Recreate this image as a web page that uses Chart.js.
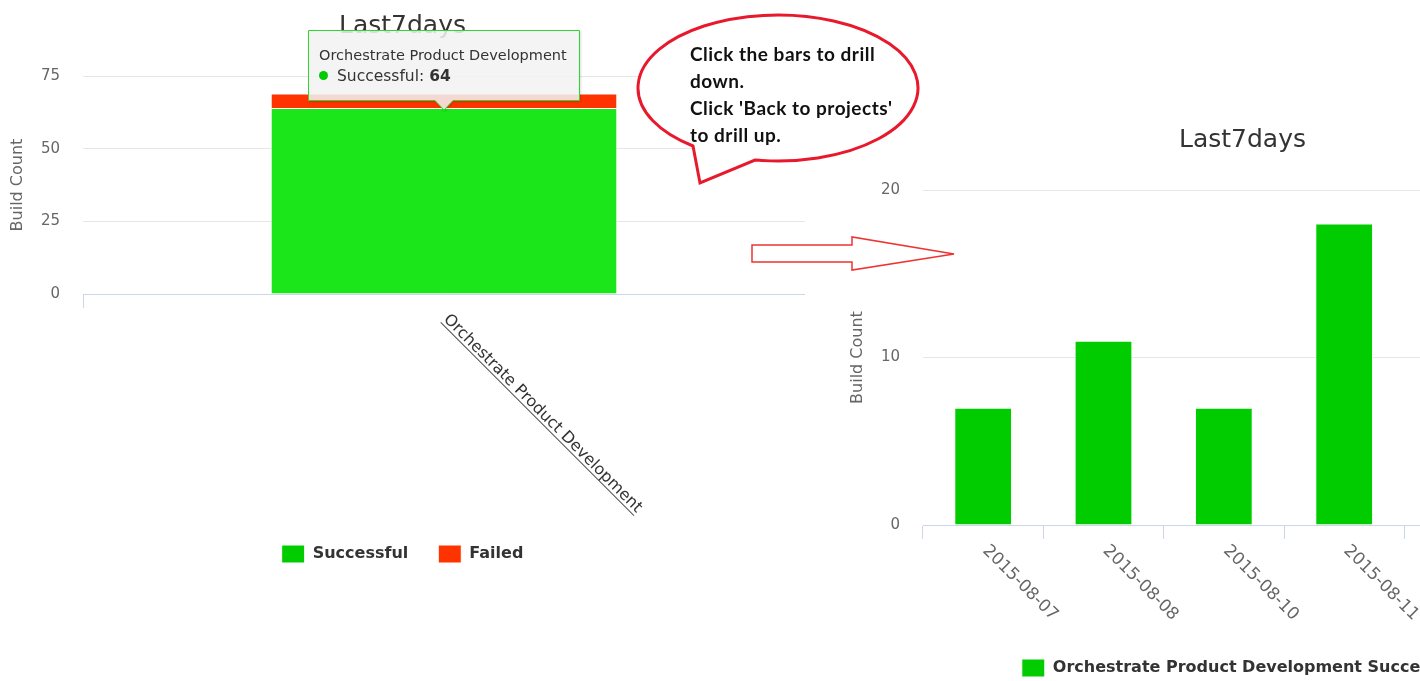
<!DOCTYPE html>
<html>
<head>
<meta charset="utf-8">
<title>Last7days drilldown</title>
<script src="https://cdn.jsdelivr.net/npm/chart.js@4.4.0/dist/chart.umd.min.js"></script>
<style>
    html, body { margin: 0; padding: 0; background: #fff; width: 1420px; height: 681px; overflow: hidden; position: relative; }
    canvas { position: absolute; }
    #projChart { left: 0; top: 0; }
    #dayChart { left: 840px; top: 110px; }
    #notes { position: absolute; left: 0; top: 0; pointer-events: none; }
    #bubbleText { position: absolute; left: 690px; top: 40px; font: bold 19px Lato, sans-serif; letter-spacing: 0.5px; line-height: 27px; color: #111; white-space: nowrap; }
    #tip { position: absolute; display: none; }
    #tip svg { position: absolute; left: 0; top: 0; overflow: visible; filter: drop-shadow(1px 1px 1px rgba(0,0,0,0.15)); }
    .tip-text { position: relative; padding: 16px 13px 13px 11px; white-space: nowrap; font-family: 'DejaVu Sans', sans-serif; color: #333; }
    .tip-head { font-size: 14.5px; line-height: 18px; }
    .tip-body { font-size: 15.5px; line-height: 24px; }
    .tip-dot { display: inline-block; width: 9px; height: 9px; border-radius: 50%; margin-right: 9px; vertical-align: 1px; }
</style>
</head>
<body>
<canvas id="projChart" width="805" height="600"></canvas>
<canvas id="dayChart" width="805" height="600"></canvas>

<svg id="notes" width="1420" height="681">
    <path d="M755 160 A140 73 0 1 0 693 146 L700 183 Z" fill="#fff" stroke="#e8192c" stroke-width="3" stroke-linejoin="miter"/>
    <polygon points="752,245 852,245 852,237 954,254 852,270 852,262 752,262" fill="#fff" stroke="#ee3333" stroke-width="1.5"/>
</svg>
<div id="bubbleText">Click the bars to drill<br>down.<br>Click 'Back to projects'<br>to drill up.</div>

<div id="tip"><svg><path/></svg><div class="tip-text"></div></div>

<script>
// projects view
const projects = ['Orchestrate Product Development'];
const successful = [64];
const failed = [5];
const projTicks = [0, 25, 50, 75];

// drilldown view (the last two slots are off screen)
const days = ['2015-08-07', '2015-08-08', '2015-08-10', '2015-08-11', '', ''];
const daySuccess = [7, 11, 7, 18, null, null];
const dayTicks = [0, 10, 20];

Chart.defaults.font.family = "'DejaVu Sans', sans-serif";

// slanted category labels, 45deg going down-right from the tick
const slantLabels = {
    id: 'slantLabels',
    afterDraw(chart, args, opts) {
        const sc = chart.scales.x;
        const ctx = chart.ctx;
        chart.data.labels.forEach((lab, i) => {
            if (!lab) return;
            const x = sc.getPixelForTick(i);
            ctx.save();
            ctx.translate(x + opts.dx, sc.top + opts.dy);
            ctx.rotate(Math.PI / 4);
            ctx.font = opts.font;
            ctx.fillStyle = opts.color;
            ctx.textAlign = 'left';
            ctx.textBaseline = 'middle';
            ctx.fillText(lab, 0, 0);
            if (opts.underline) {
                const w = ctx.measureText(lab).width;
                ctx.fillStyle = opts.underline;
                ctx.fillRect(0, 7, w, 1);
            }
            ctx.restore();
        });
    }
};

function drawTip(context) {
    const { chart, tooltip } = context;
    const tip = document.getElementById('tip');
    if (tooltip.opacity === 0 || !tooltip.dataPoints || !tooltip.dataPoints.length) {
        tip.style.display = 'none';
        return;
    }
    const item = tooltip.dataPoints[0];
    tip.style.display = 'block';

    const text = tip.querySelector('.tip-text');
    text.innerHTML = '';
    const head = document.createElement('div');
    head.className = 'tip-head';
    head.textContent = item.label;
    const body = document.createElement('div');
    body.className = 'tip-body';
    const dot = document.createElement('span');
    dot.className = 'tip-dot';
    dot.style.background = item.dataset.backgroundColor;
    body.appendChild(dot);
    body.appendChild(document.createTextNode(item.dataset.label + ': '));
    const val = document.createElement('b');
    val.textContent = item.formattedValue;
    body.appendChild(val);
    text.append(head, body);

    const w = text.offsetWidth, h = text.offsetHeight, c = 9;
    const svg = tip.querySelector('svg');
    svg.setAttribute('width', w);
    svg.setAttribute('height', h + c);
    const path = svg.querySelector('path');
    path.setAttribute('d', `M0.5 0.5 H${w - 0.5} V${h - 0.5} H${w / 2 + c} L${w / 2} ${h + c} L${w / 2 - c} ${h - 0.5} H0.5 Z`);
    path.setAttribute('fill', 'rgba(247,247,247,0.85)');
    path.setAttribute('stroke', '#2fd62f');
    path.setAttribute('stroke-width', '1');

    // caret tip sits on the white seam just above the bar
    const cv = chart.canvas;
    tip.style.left = (cv.offsetLeft + tooltip.caretX - w / 2) + 'px';
    tip.style.top = (cv.offsetTop + tooltip.caretY + 2 - c - h) + 'px';
}

function yAxis(max, ticks) {
    return {
        stacked: true,
        min: 0,
        max: max,
        afterBuildTicks: s => { s.ticks = ticks.map(v => ({ value: v })); },
        afterFit: s => { s.width = 83; },
        grid: { color: '#e6e6e6', drawTicks: false },
        border: { display: false },
        ticks: { color: '#666', font: { size: 15 }, padding: 23 },
        title: { display: true, text: 'Build Count', color: '#666', font: { size: 16 }, padding: { top: 8, bottom: 0 } }
    };
}

function xAxis(height) {
    return {
        stacked: true,
        offset: true,
        afterFit: s => { s.height = height; },
        grid: { drawOnChartArea: false, drawTicks: true, tickLength: 14, color: '#ccd6eb', offset: true },
        border: { color: '#ccd6eb' },
        ticks: { display: false }
    };
}

function titleOpts(top) {
    return { display: true, text: 'Last7days', color: '#333', font: { size: 25, weight: 'normal' }, padding: { top: top, bottom: 35 } };
}

function legendOpts() {
    return {
        position: 'bottom',
        labels: { boxWidth: 23, boxHeight: 18, color: '#333', font: { size: 16, weight: 'bold' }, padding: 30 }
    };
}

const projChart = new Chart(document.getElementById('projChart'), {
    type: 'bar',
    data: {
        labels: projects,
        datasets: [
            {
                label: 'Successful',
                data: successful,
                backgroundColor: '#00cc00',
                hoverBackgroundColor: '#1ae61a',
                borderColor: '#fff',
                hoverBorderColor: '#fff',
                borderWidth: 1,
                categoryPercentage: 0.8,
                barPercentage: 0.6
            },
            {
                label: 'Failed',
                data: failed,
                backgroundColor: '#ff3300',
                hoverBackgroundColor: '#ff3300',
                borderColor: '#fff',
                hoverBorderColor: '#fff',
                borderWidth: 1,
                categoryPercentage: 0.8,
                barPercentage: 0.6
            }
        ]
    },
    options: {
        responsive: false,
        animation: false,
        events: [],
        layout: { padding: { left: 0, right: 0, top: 0, bottom: 27 } },
        scales: { x: xAxis(221), y: yAxis(75, projTicks) },
        plugins: {
            title: titleOpts(11),
            legend: legendOpts(),
            tooltip: { enabled: false, external: drawTip },
            slantLabels: { font: "16px 'DejaVu Sans', sans-serif", color: '#333', underline: '#555', dx: 2, dy: 23 }
        }
    },
    plugins: [slantLabels]
});

const dayChart = new Chart(document.getElementById('dayChart'), {
    type: 'bar',
    data: {
        labels: days,
        datasets: [{
            label: 'Orchestrate Product Development Successful',
            data: daySuccess,
            backgroundColor: '#00cc00',
            borderColor: '#fff',
            borderWidth: 1,
            categoryPercentage: 0.8,
            barPercentage: 0.6
        }]
    },
    options: {
        responsive: false,
        animation: false,
        events: [],
        layout: { padding: { left: 0, right: 0, top: 0, bottom: 23 } },
        scales: { x: xAxis(104), y: yAxis(20, dayTicks) },
        plugins: {
            title: titleOpts(15),
            legend: legendOpts(),
            tooltip: { enabled: false },
            slantLabels: { font: "17px 'DejaVu Sans', sans-serif", color: '#666', underline: null, dx: 2, dy: 23 }
        }
    },
    plugins: [slantLabels]
});

// hovered state on the Successful bar, with its tooltip
const active = [{ datasetIndex: 0, index: 0 }];
projChart.setActiveElements(active);
projChart.tooltip.setActiveElements(active, { x: 0, y: 0 });
projChart.update();
</script>
</body>
</html>
